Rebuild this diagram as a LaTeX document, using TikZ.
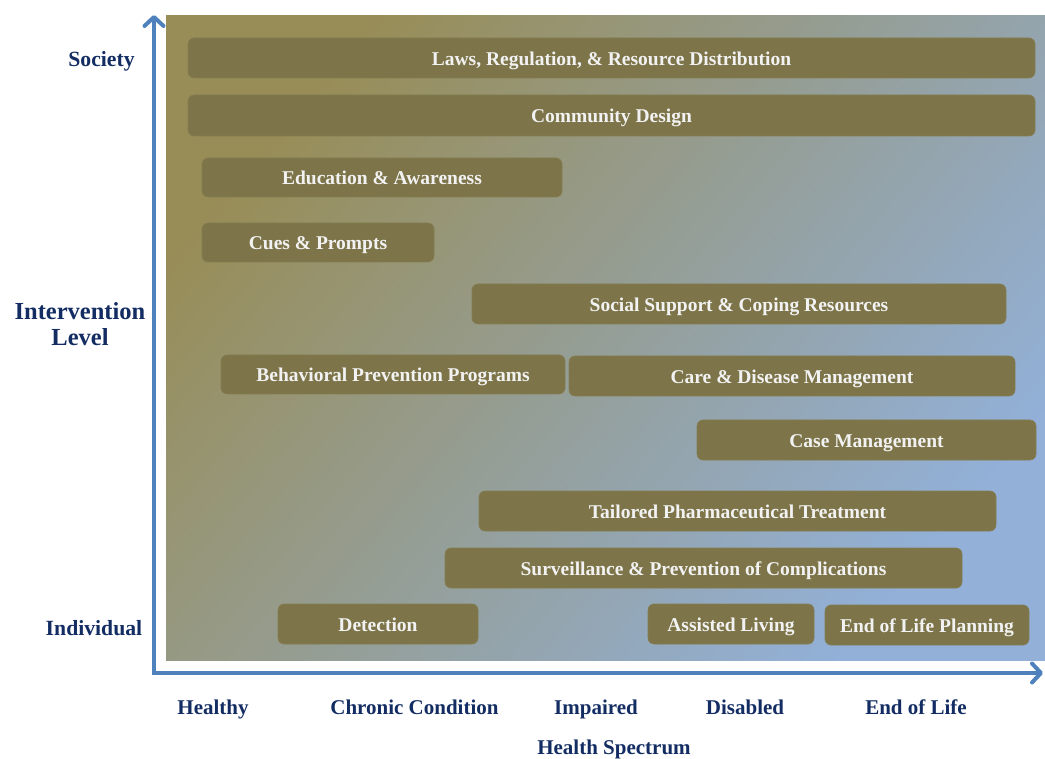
\documentclass[tikz,border=0pt]{standalone}
\usepackage{fontspec}
\setmainfont{Liberation Serif}
\usetikzlibrary{arrows.meta}
\definecolor{barfill}{HTML}{7D7549}
\definecolor{baredge}{HTML}{857D52}
\definecolor{bartext}{HTML}{F2F2F2}
\definecolor{axisblue}{HTML}{4F81BD}
\definecolor{navy}{HTML}{132D63}
\definecolor{bgolive}{HTML}{988D57}
\definecolor{bgmid}{HTML}{949C98}
\definecolor{bgblue}{HTML}{92B0D8}
\tikzset{
  bar/.style={rounded corners=6pt, fill=barfill, draw=baredge, line width=0.6pt,
    text=bartext, font=\bfseries\fontsize{19.5pt}{22pt}\selectfont,
    inner sep=0pt, text height=18pt, text depth=3pt, align=center},
  axislabel/.style={text=navy, font=\bfseries\fontsize{21pt}{26pt}\selectfont,
    inner sep=0pt, text height=19pt, text depth=4pt, align=center},
  axisline/.style={draw=axisblue, line width=4pt, line join=miter,
    {Straight Barb[length=9pt,width=19pt,round]}-{Straight Barb[length=9pt,width=19pt,round]}}
}
\begin{document}
\begin{tikzpicture}[x=1pt,y=-1pt]
\useasboundingbox (0,0) rectangle (1045,759);
% background
\shade[shading=axis, top color=bgolive, middle color=bgmid, bottom color=bgblue, shading angle=50]
  (166,16) rectangle (1045,660);
% axes
\coordinate (ytop) at (154,15);
\coordinate (origin) at (154,673);
\coordinate (xend) at (1043,673);
\draw[axisline] (ytop) -- (origin) -- (xend);
% bars
\node[bar, minimum width=847pt, minimum height=40pt] (laws) at (611.5,58) {Laws, Regulation, \& Resource Distribution};
\node[bar, minimum width=847pt, minimum height=41pt] (comm) at (611.5,115.5) {Community Design};
\node[bar, minimum width=360pt, minimum height=39pt] (edu) at (382,177.5) {Education \& Awareness};
\node[bar, minimum width=232pt, minimum height=39pt] (cues) at (318,242.5) {Cues \& Prompts};
\node[bar, minimum width=534pt, minimum height=40pt] (social) at (739,304) {Social Support \& Coping Resources};
\node[bar, minimum width=344pt, minimum height=39pt] (behav) at (393,374.5) {Behavioral Prevention Programs};
\node[bar, minimum width=446pt, minimum height=40pt] (care) at (792,376) {Care \& Disease Management};
\node[bar, minimum width=339pt, minimum height=40pt] (case) at (866.5,440) {Case Management};
\node[bar, minimum width=517pt, minimum height=40pt] (tailor) at (737.5,511) {Tailored Pharmaceutical Treatment};
\node[bar, minimum width=517pt, minimum height=40pt] (surv) at (703.5,568) {Surveillance \& Prevention of Complications};
\node[bar, minimum width=200pt, minimum height=40pt] (detect) at (378,624) {Detection};
\node[bar, minimum width=166pt, minimum height=40pt] (assist) at (731,624) {Assisted Living};
\node[bar, minimum width=204pt, minimum height=40pt] (eol) at (927,625) {End of Life Planning};
% vertical axis labels
\node[axislabel, font=\bfseries\fontsize{21.7pt}{26pt}\selectfont] (society) at (101.5,59.5) {Society};
\node[axislabel, font=\bfseries\fontsize{24.5pt}{26pt}\selectfont, text height=17pt, text depth=5pt] (intlevel) at (80,340) {Intervention\\Level};
\node[axislabel, font=\bfseries\fontsize{21.7pt}{26pt}\selectfont] (indiv) at (94,628) {Individual};
% horizontal axis labels
\node[axislabel] (healthy) at (213,707) {Healthy};
\node[axislabel] (chronic) at (414.5,707) {Chronic Condition};
\node[axislabel] (impaired) at (596,707) {Impaired};
\node[axislabel] (disabled) at (745,707) {Disabled};
\node[axislabel] (eolife) at (916,707) {End of Life};
\node[axislabel] (spectrum) at (614,747) {Health Spectrum};
\end{tikzpicture}
\end{document}
